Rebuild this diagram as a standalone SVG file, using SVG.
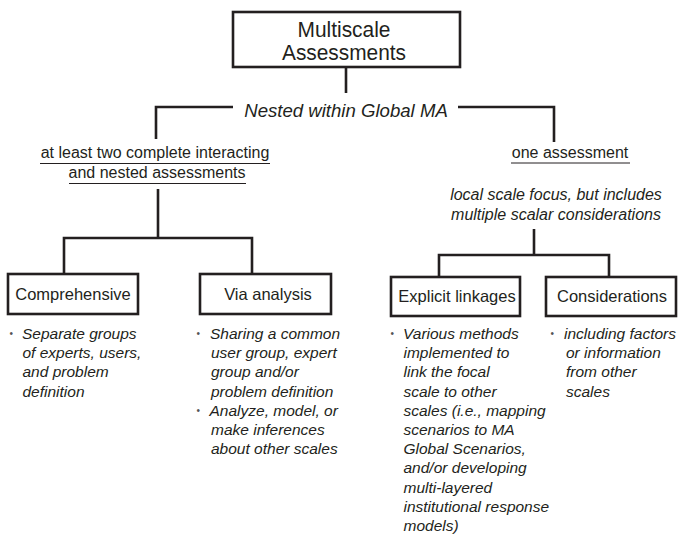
<svg xmlns="http://www.w3.org/2000/svg" width="678" height="534" viewBox="0 0 678 534">
<style>
  text { font-family: "Liberation Sans", Arial, Helvetica, sans-serif; fill: #231f20; }
  .box { fill: #ffffff; stroke: #231f20; stroke-width: 2.6; }
  .conn { fill: none; stroke: #231f20; stroke-width: 2.6; stroke-linecap: butt; }
  .ul { stroke: #231f20; stroke-width: 1; }
  .title { font-size: 22px; text-anchor: middle; }
  .lbl { font-size: 16.5px; text-anchor: middle; }
  .mid { font-size: 16px; text-anchor: middle; }
  .it { font-style: italic; }
  .note { font-size: 15.5px; font-style: italic; }
  .bul { font-size: 10px; fill: #555; }
</style>
<rect width="678" height="534" fill="#ffffff"/>

<g id="connectors">
  <path class="conn" d="M346 67 V93"/>
  <path class="conn" d="M233 107 H156 V139"/>
  <path class="conn" d="M458 107 H554 V142"/>
  <path class="conn" d="M158 189 V238"/>
  <path class="conn" d="M64 274 V238 H252 V274"/>
  <path class="conn" d="M534 229 V255"/>
  <path class="conn" d="M439 277 V255 H609 V277"/>
</g>

<g id="multiscale">
  <rect class="box" x="233" y="12" width="227" height="55"/>
  <text class="title" x="344" y="37" textLength="93" lengthAdjust="spacingAndGlyphs">Multiscale</text>
  <text class="title" x="344" y="60" textLength="124" lengthAdjust="spacingAndGlyphs">Assessments</text>
</g>

<g id="nested">
  <text class="it" x="346" y="117" font-size="18.6" text-anchor="middle">Nested within Global MA</text>
</g>

<g id="two-assessments">
  <text class="mid" x="155" y="158">at least two complete interacting</text>
  <line class="ul" x1="40" y1="163.5" x2="270" y2="163.5"/>
  <text class="mid" x="157" y="178">and nested assessments</text>
  <line class="ul" x1="69" y1="183.5" x2="246" y2="183.5"/>
</g>

<g id="one-assessment">
  <text class="mid" x="570" y="158">one assessment</text>
  <line class="ul" x1="511" y1="163" x2="630" y2="163"/>
</g>

<g id="local-focus">
  <text class="mid it" x="556" y="200">local scale focus, but includes</text>
  <text class="mid it" x="556" y="220">multiple scalar considerations</text>
</g>

<g id="comprehensive">
  <rect class="box" x="8" y="274" width="130" height="40"/>
  <text class="lbl" x="73" y="300">Comprehensive</text>
  <text class="bul" x="9.5" y="337">•</text>
  <text class="note" x="22.5">
    <tspan x="22" y="339">Separate groups</tspan>
    <tspan x="22.5" y="358.2">of experts, users,</tspan>
    <tspan x="22.5" y="377.4">and problem</tspan>
    <tspan x="22.5" y="396.6">definition</tspan>
  </text>
</g>

<g id="via-analysis">
  <rect class="box" x="200" y="274" width="131" height="40"/>
  <text class="lbl" x="268" y="300">Via analysis</text>
  <text class="bul" x="196.5" y="337">•</text>
  <text class="note" x="211">
    <tspan x="210" y="339">Sharing a common</tspan>
    <tspan x="211" y="358.2">user group, expert</tspan>
    <tspan x="211" y="377.4">group and/or</tspan>
    <tspan x="211" y="396.6">problem definition</tspan>
  </text>
  <text class="bul" x="196.5" y="414">•</text>
  <text class="note" x="211">
    <tspan x="209.5" y="415.8">Analyze, model, or</tspan>
    <tspan x="211" y="435">make inferences</tspan>
    <tspan x="211" y="454.2">about other scales</tspan>
  </text>
</g>

<g id="explicit-linkages">
  <rect class="box" x="391" y="277" width="129" height="39"/>
  <text class="lbl" x="457" y="302">Explicit linkages</text>
  <text class="bul" x="390.5" y="337">•</text>
  <text class="note" x="403.5">
    <tspan x="403" y="339">Various methods</tspan>
    <tspan x="403.5" y="358.2">implemented to</tspan>
    <tspan x="403.5" y="377.4">link the focal</tspan>
    <tspan x="403.5" y="396.6">scale to other</tspan>
    <tspan x="403.5" y="415.8">scales (i.e., mapping</tspan>
    <tspan x="403.5" y="435">scenarios to MA</tspan>
    <tspan x="403.5" y="454.2">Global Scenarios,</tspan>
    <tspan x="403.5" y="473.4">and/or developing</tspan>
    <tspan x="403.5" y="492.6">multi-layered</tspan>
    <tspan x="403.5" y="511.8">institutional response</tspan>
    <tspan x="403.5" y="531">models)</tspan>
  </text>
</g>

<g id="considerations">
  <rect class="box" x="546" y="277" width="130" height="39"/>
  <text class="lbl" x="612" y="302">Considerations</text>
  <text class="bul" x="550.5" y="337">•</text>
  <text class="note" x="565">
    <tspan x="564" y="339">including factors</tspan>
    <tspan x="566" y="358.2">or information</tspan>
    <tspan x="566" y="377.4">from other</tspan>
    <tspan x="566" y="396.6">scales</tspan>
  </text>
</g>
</svg>
